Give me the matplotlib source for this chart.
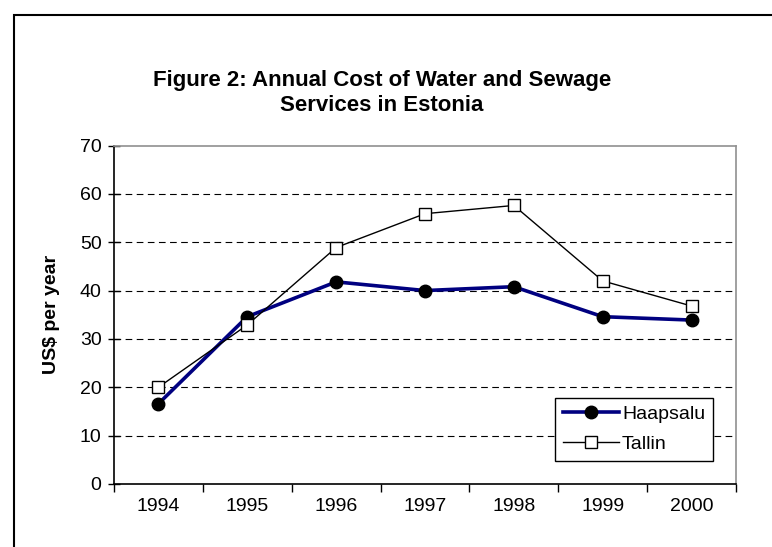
import matplotlib
matplotlib.use("Agg")
import matplotlib.pyplot as plt
import matplotlib.patches as mpatches

plt.rcParams['font.family'] = ['Liberation Sans', 'DejaVu Sans']

years = ['1994', '1995', '1996', '1997', '1998', '1999', '2000']
haapsalu = [16.6, 34.6, 41.8, 40.0, 40.8, 34.6, 33.9]
tallin = [20.0, 32.9, 48.9, 55.9, 57.6, 42.0, 36.8]
y_ticks = [0, 10, 20, 30, 40, 50, 60, 70]

W, H = 772, 547
fig = plt.figure(figsize=(W / 100, H / 100), dpi=100)
fig.patch.set_facecolor('white')

# outer chart frame (runs off the right and bottom edges)
fig.patches.append(mpatches.Rectangle((14 / W, -0.1), 1.2, 1 - 15 / H + 0.1,
                                      transform=fig.transFigure, fill=False,
                                      edgecolor='black', linewidth=1.5))

ax = fig.add_axes([114 / W, 1 - 484 / H, (736 - 114) / W, (484 - 145.5) / H])

x = list(range(len(years)))
ax.plot(x, haapsalu, color='#000080', linewidth=2.6, marker='o', markersize=9,
        markerfacecolor='black', markeredgecolor='black', label='Haapsalu', zorder=3)
ax.plot(x, tallin, color='black', linewidth=1.0, marker='s', markersize=9,
        markerfacecolor='white', markeredgecolor='black', markeredgewidth=1.0,
        label='Tallin', zorder=4)

ax.set_xlim(-0.5, len(years) - 0.5)
ax.set_ylim(0, 70)

# category axis: ticks between categories, labels centred
ax.set_xticks([i - 0.5 for i in range(len(years) + 1)])
ax.set_xticklabels([])
ax.set_xticks(x, minor=True)
ax.set_xticklabels(years, minor=True, fontsize=14)
ax.tick_params(axis='x', which='major', direction='out', length=6, width=1, color='black')
ax.tick_params(axis='x', which='minor', length=0, pad=10)

ax.set_yticks(y_ticks)
ax.set_yticklabels([str(v) for v in y_ticks], fontsize=14)
ax.tick_params(axis='y', direction='inout', length=8, width=1, pad=5)

for v in y_ticks[1:-1]:
    ax.axhline(v, color='black', linestyle=(0, (6, 4)), linewidth=0.8, zorder=1)

ax.spines['left'].set_color('black')
ax.spines['bottom'].set_color('black')
ax.spines['top'].set_color('#909090')
ax.spines['right'].set_color('#909090')
for s in ax.spines.values():
    s.set_linewidth(1.2)

ax.set_ylabel('US$ per year', fontsize=14, fontweight='bold', labelpad=14)

fig.text(382 / W, 1 - 93 / H, 'Figure 2: Annual Cost of Water and Sewage\nServices in Estonia',
         ha='center', va='center', fontsize=16, fontweight='bold', linespacing=1.25)

leg = ax.legend(loc='lower right', bbox_to_anchor=(713 / W, 1 - 461 / H),
                bbox_transform=fig.transFigure, fontsize=14, fancybox=False,
                framealpha=1, edgecolor='black', handlelength=2.9, borderpad=0.4,
                labelspacing=0.65, handletextpad=0.15, borderaxespad=0)
leg.get_frame().set_linewidth(1.0)

fig.savefig('out.png', dpi=100, facecolor='white')
